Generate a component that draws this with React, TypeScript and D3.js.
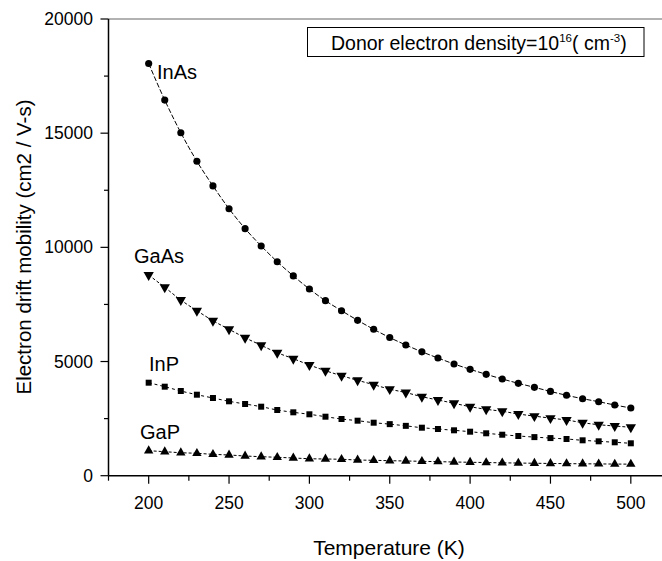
import React from "react";
import * as d3 from "d3";

const temps = [200, 210, 220, 230, 240, 250, 260, 270, 280, 290, 300, 310, 320, 330, 340, 350, 360, 370, 380, 390, 400, 410, 420, 430, 440, 450, 460, 470, 480, 490, 500];

const inAs = [18050, 16450, 15020, 13770, 12690, 11690, 10820, 10060, 9370, 8750, 8176, 7664, 7226, 6805, 6411, 6050, 5724, 5425, 5154, 4892, 4659, 4440, 4235, 4046, 3870, 3690, 3521, 3372, 3240, 3096, 2964];
const gaAs = [8789, 8250, 7694, 7226, 6788, 6411, 6043, 5711, 5386, 5124, 4848, 4598, 4379, 4178, 3985, 3790, 3640, 3460, 3315, 3171, 3022, 2908, 2820, 2702, 2610, 2520, 2439, 2321, 2233, 2176, 2120];
const inP = [4073, 3898, 3709, 3547, 3403, 3258, 3140, 3022, 2877, 2776, 2689, 2584, 2483, 2409, 2321, 2258, 2183, 2102, 2045, 1988, 1927, 1857, 1795, 1739, 1690, 1648, 1607, 1550, 1506, 1463, 1419];
const gaP = [1095, 1051, 1007, 980, 937, 906, 863, 832, 806, 775, 744, 731, 718, 688, 674, 657, 644, 630, 615, 600, 588, 576, 564, 554, 545, 536, 528, 522, 516, 510, 505];

const xTicks = [200, 250, 300, 350, 400, 450, 500];
const xMinor = [175, 225, 275, 325, 375, 425, 475, 525];
const yTicks = [0, 5000, 10000, 15000, 20000];
const yMinor = [2500, 7500, 12500, 17500];

const seriesNames = ["InAs", "GaAs", "InP", "GaP"];

const FONT = "'Liberation Sans', Arial, Helvetica, sans-serif";

export default function App() {
  const W = 662, H = 561;
  const x = d3.scaleLinear().domain([175, 525]).range([108.5, 671]);
  const y = d3.scaleLinear().domain([0, 20000]).range([475.7, 19]);

  const series = [
    { name: seriesNames[0], vals: inAs, sym: d3.symbolCircle, size: 40, rot: 0, dash: "5,2", lx: 157, ly: 79 },
    { name: seriesNames[1], vals: gaAs, sym: d3.symbolTriangle, size: 46, rot: 180, dash: "3,2", lx: 134, ly: 263 },
    { name: seriesNames[2], vals: inP, sym: d3.symbolSquare, size: 36, rot: 0, dash: "3,3", lx: 149, ly: 371 },
    { name: seriesNames[3], vals: gaP, sym: d3.symbolTriangle, size: 38, rot: 0, dash: "3,2", lx: 140, ly: 439 },
  ];

  const line = d3.line<[number, number]>().x((d) => x(d[0])).y((d) => y(d[1])).curve(d3.curveMonotoneX);

  const x0 = x(175), y0 = y(0), yTop = y(20000);

  return (
    <svg width={W} height={H} style={{ position: "absolute", left: 0, top: 0, background: "#fff" }} fontFamily={FONT}>
      <rect x={0} y={0} width={W} height={H} fill="#fff" />
      <line x1={x0} x2={W} y1={yTop} y2={yTop} stroke="#666" strokeWidth={1.2} />
      <line x1={x0} x2={W} y1={y0} y2={y0} stroke="#000" strokeWidth={1.5} />
      <line x1={x0} x2={x0} y1={yTop} y2={y0} stroke="#000" strokeWidth={1.5} />
      {xTicks.map((t) => (
        <g key={"xt" + t}>
          <line x1={x(t)} x2={x(t)} y1={y0} y2={y0 + 8} stroke="#000" strokeWidth={1.2} />
          <text x={x(t)} y={509} fontSize={17.5} textAnchor="middle">{t}</text>
        </g>
      ))}
      {xMinor.map((t) => (
        <line key={"xm" + t} x1={x(t)} x2={x(t)} y1={y0} y2={y0 + 5} stroke="#000" strokeWidth={1.2} />
      ))}
      {yTicks.map((t) => (
        <g key={"yt" + t}>
          <line x1={x0 - 8} x2={x0} y1={y(t)} y2={y(t)} stroke="#000" strokeWidth={1.2} />
          <text x={93} y={y(t) + 6} fontSize={17.5} textAnchor="end">{t}</text>
        </g>
      ))}
      {yMinor.map((t) => (
        <line key={"ym" + t} x1={x0 - 4.5} x2={x0} y1={y(t)} y2={y(t)} stroke="#000" strokeWidth={1.2} />
      ))}
      <text x={389} y={555} fontSize={21} textAnchor="middle">Temperature (K)</text>
      <text transform={`translate(31,${247}) rotate(-90)`} fontSize={20.5} textAnchor="middle">Electron drift mobility (cm2 / V-s)</text>

      <rect x={307.5} y={27.5} width={336.5} height={29} fill="#fff" stroke="#000" strokeWidth={1} />
      <text x={331} y={49.5} fontSize={19.5}>
        Donor electron density=10<tspan fontSize={11.5} dy={-8}>16</tspan>
        <tspan dy={8}>( cm</tspan>
        <tspan fontSize={11.5} dy={-8}>-3</tspan>
        <tspan dy={8}>)</tspan>
      </text>

      {series.map((s) => {
        const pts: [number, number][] = temps.map((t, i) => [t, s.vals[i]]);
        const sym = d3.symbol().type(s.sym).size(s.size)();
        return (
          <g key={s.name}>
            <path d={line(pts) || ""} fill="none" stroke="#000" strokeWidth={1} strokeDasharray={s.dash} />
            {pts.map((p, i) => (
              <path key={i} d={sym || ""} transform={`translate(${x(p[0])},${y(p[1])}) rotate(${s.rot})`} fill="#000" />
            ))}
            <text x={s.lx} y={s.ly} fontSize={20}>{s.name}</text>
          </g>
        );
      })}
    </svg>
  );
}
